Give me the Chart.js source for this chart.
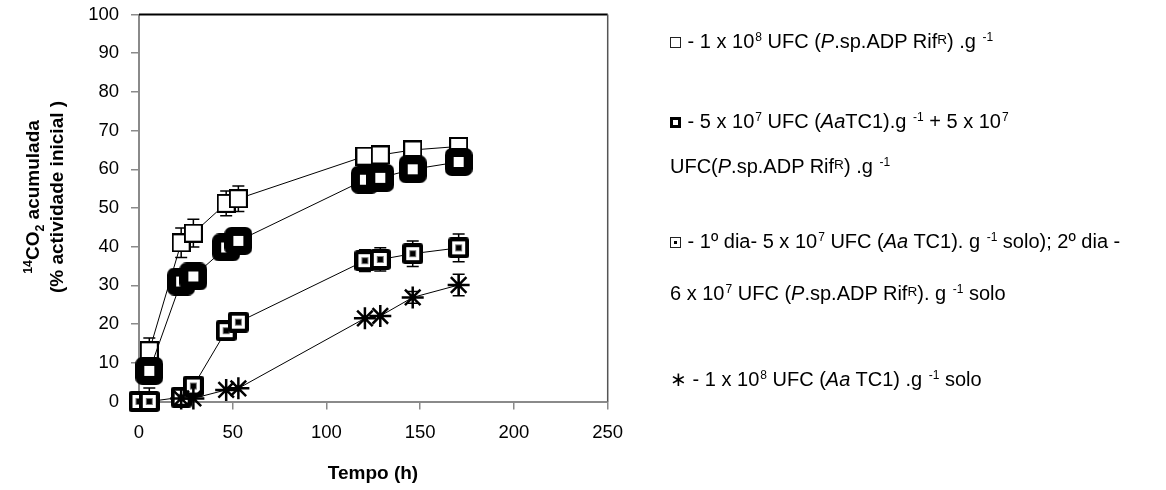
<!DOCTYPE html>
<html>
<head>
<meta charset="utf-8">
<script src="https://cdn.jsdelivr.net/npm/chart.js@4.4.1/dist/chart.umd.min.js"></script>
<style>
  html, body { margin: 0; padding: 0; background: #fff; }
  #wrap { position: relative; width: 1166px; height: 490px; font-family: Arial, "Liberation Sans", sans-serif; color: #000; }
  #wrap canvas { position: absolute; left: 0; top: 0; }
  .ytitle { position: absolute; left: -105px; top: 173px; width: 300px; height: 48px; transform: rotate(-90deg); text-align: center; font-weight: bold; font-size: 19px; line-height: 24px; white-space: nowrap; }
  .ytitle sup, .ytitle sub { font-size: 65%; line-height: 0; }
  .xtitle { position: absolute; left: 373px; top: 473px; transform: translate(-50%, -50%); font-weight: bold; font-size: 19px; white-space: nowrap; }
  .leg { position: absolute; left: 670px; font-size: 20px; line-height: 22px; white-space: nowrap; }
  .leg sup { font-size: 60%; line-height: 0; vertical-align: 0.6em; margin-left: 1px; }
  .leg .r { font-size: 68%; line-height: 0; vertical-align: 0.3em; }
  .ico { display: inline-block; box-sizing: border-box; width: 11px; height: 11px; margin-right: 1px; position: relative; }
  .ico.open { border: 1px solid #222; }
  .ico.heavy { border: 3px solid #000; }
  .ico.dot { border: 1px solid #222; }
  .ico.dot::after { content: ""; position: absolute; left: 3px; top: 3px; width: 3px; height: 3px; background: #000; }
</style>
</head>
<body>
<div id="wrap">
  <canvas id="chart" width="1166" height="490"></canvas>
  <div class="ytitle"><sup>14</sup>CO<sub>2</sub> acumulada<br>(% actividade inicial )</div>
  <div class="xtitle">Tempo (h)</div>

  <div class="leg" style="top:30px"><span class="ico open"></span> - 1 x 10<sup>8</sup> UFC (<i>P</i>.sp.ADP Rif<span class="r">R</span>) .g <sup>-1</sup></div>
  <div class="leg" style="top:110px"><span class="ico heavy"></span> - 5 x 10<sup>7</sup> UFC (<i>Aa</i>TC1).g <sup>-1</sup> + 5 x 10<sup>7</sup></div>
  <div class="leg" style="top:155px">UFC(<i>P</i>.sp.ADP Rif<span class="r">R</span>) .g <sup>-1</sup></div>
  <div class="leg" style="top:230px"><span class="ico dot"></span> - 1º dia- 5 x 10<sup>7</sup> UFC (<i>Aa</i> TC1). g <sup>-1</sup> solo); 2º dia -</div>
  <div class="leg" style="top:282px">6 x 10<sup>7</sup> UFC (<i>P</i>.sp.ADP Rif<span class="r">R</span>). g <sup>-1</sup> solo</div>
  <div class="leg" style="top:368px">∗ - 1 x 10<sup>8</sup> UFC (<i>Aa</i> TC1) .g <sup>-1</sup> solo</div>
</div>

<script>
// sampling times (h)
const hours = [0, 5.5, 22.5, 29, 46.5, 53, 120.5, 128.7, 146, 170.5];

// accumulated 14CO2 (% of initial activity)
const pspOnly    = [null, 13.1, 41.0, 43.5, 51.2, 52.4, 63.4, 63.7, 65.0, 65.9];
const aaPlusPsp  = [null, 7.9, 31.0, 32.3, 39.8, 41.5, 57.3, 57.8, 60.0, 61.9];
const sequential = [0, 0, 1.1, 4.0, 18.3, 20.5, 36.4, 36.7, 38.2, 39.7];
const aaOnly     = [null, null, 0.8, 0.8, 3.0, 3.4, 21.5, 22.1, 26.9, 30.1];

// standard deviations
const pspOnlyErr    = [0, 3.3, 3.8, 3.6, 3.2, 3.3, 1.0, 1.0, 1.0, 1.0];
const aaPlusPspErr  = [0, 0, 0, 0, 0, 0, 0, 0, 0, 0];
const sequentialErr = [0, 3.5, 0, 0, 0, 0, 2.8, 3.0, 3.3, 3.6];
const aaOnlyErr     = [0, 0, 0, 0, 0, 0, 0, 0, 1.5, 2.8];

const xTickValues = [0, 50, 100, 150, 200, 250];
const yTickValues = [0, 10, 20, 30, 40, 50, 60, 70, 80, 90, 100];

const seriesValues = [pspOnly, aaPlusPsp, sequential, aaOnly];
const seriesErrors = [pspOnlyErr, aaPlusPspErr, sequentialErr, aaOnlyErr];

function toPoints(values) {
    return hours.map((h, i) => values[i] == null ? null : { x: h, y: values[i] }).filter(Boolean);
}

function roundedRect(g, x, y, w, h, r) {
    g.beginPath();
    g.moveTo(x + r, y);
    g.arcTo(x + w, y, x + w, y + h, r);
    g.arcTo(x + w, y + h, x, y + h, r);
    g.arcTo(x, y + h, x, y, r);
    g.arcTo(x, y, x + w, y, r);
    g.closePath();
}

function markerCanvas(size, paint) {
    const c = document.createElement('canvas');
    c.width = size;
    c.height = size;
    paint(c.getContext('2d'), size);
    return c;
}

// marker symbols
const openSquare = markerCanvas(19, (g, s) => {
    g.fillStyle = '#fff';
    g.fillRect(0, 0, s, s);
    g.strokeStyle = '#000';
    g.lineWidth = 2;
    g.strokeRect(1, 1, s - 2, s - 2);
});
const heavySquare = markerCanvas(28, (g, s) => {
    g.fillStyle = '#000';
    roundedRect(g, 0, 0, s, s, 7);
    g.fill();
    g.fillStyle = '#fff';
    g.fillRect(9, 9, 10, 10);
});
const dotSquare = markerCanvas(21, (g, s) => {
    g.fillStyle = '#000';
    roundedRect(g, 0, 0, s, s, 3);
    g.fill();
    g.fillStyle = '#fff';
    g.fillRect(4, 4, s - 8, s - 8);
    g.fillStyle = '#777';
    g.fillRect(7, 7, 7, 7);
    g.fillStyle = '#000';
    g.fillRect(8, 8, 5, 5);
});

// error bars drawn under the markers
const errorBars = {
    id: 'errorBars',
    beforeDatasetsDraw(chart) {
        const { ctx, scales: { x, y } } = chart;
        ctx.save();
        ctx.strokeStyle = '#000';
        ctx.lineWidth = 1.5;
        seriesErrors.forEach((errs, si) => {
            const vals = seriesValues[si];
            errs.forEach((e, i) => {
                if (!e || vals[i] == null) return;
                const px = x.getPixelForValue(hours[i]);
                const top = y.getPixelForValue(vals[i] + e);
                const bot = y.getPixelForValue(Math.max(0, vals[i] - e));
                ctx.beginPath();
                ctx.moveTo(px, top); ctx.lineTo(px, bot);
                ctx.moveTo(px - 6, top); ctx.lineTo(px + 6, top);
                ctx.moveTo(px - 6, bot); ctx.lineTo(px + 6, bot);
                ctx.stroke();
            });
        });
        ctx.restore();
    }
};

// top and right edges of the plot box
const plotFrame = {
    id: 'plotFrame',
    beforeDatasetsDraw(chart) {
        const { ctx, chartArea: a } = chart;
        ctx.save();
        ctx.strokeStyle = '#000';
        ctx.lineWidth = 2;
        ctx.beginPath();
        ctx.moveTo(a.left, a.top);
        ctx.lineTo(a.right, a.top);
        ctx.stroke();
        ctx.strokeStyle = '#555';
        ctx.lineWidth = 1.5;
        ctx.beginPath();
        ctx.moveTo(a.right, a.top);
        ctx.lineTo(a.right, a.bottom);
        ctx.stroke();
        ctx.restore();
    }
};

const lineCommon = {
    showLine: true,
    borderColor: '#000',
    borderWidth: 1,
    tension: 0,
    clip: false,
    spanGaps: true
};

const axisGray = '#8a8a8a';
const fontFamily = 'Arial, "Liberation Sans", sans-serif';

new Chart(document.getElementById('chart'), {
    type: 'scatter',
    data: {
        datasets: [
            { ...lineCommon, data: toPoints(pspOnly), pointStyle: openSquare, order: 4 },
            { ...lineCommon, data: toPoints(aaPlusPsp), pointStyle: heavySquare, order: 3 },
            { ...lineCommon, data: toPoints(sequential), pointStyle: dotSquare, order: 2 },
            {
                ...lineCommon, data: toPoints(aaOnly), pointStyle: 'star',
                pointRadius: 11, pointBorderWidth: 2.5, pointBorderColor: '#000', order: 1
            }
        ]
    },
    options: {
        responsive: false,
        animation: false,
        devicePixelRatio: 1,
        events: [],
        layout: { padding: { left: 0, top: 14.5, right: 1166 - 607.7, bottom: 0 } },
        plugins: {
            legend: { display: false },
            tooltip: { enabled: false }
        },
        scales: {
            x: {
                type: 'linear',
                min: 0,
                max: 250,
                afterBuildTicks: s => { s.ticks = xTickValues.map(v => ({ value: v })); },
                afterFit: s => { s.height = 490 - 401.5; },
                ticks: { color: '#000', font: { family: fontFamily, size: 18.5 }, padding: 12, maxRotation: 0 },
                grid: { drawOnChartArea: false, color: axisGray, lineWidth: 1.5, tickLength: 8 },
                border: { color: axisGray, width: 2 }
            },
            y: {
                type: 'linear',
                min: 0,
                max: 100,
                afterBuildTicks: s => { s.ticks = yTickValues.map(v => ({ value: v })); },
                afterFit: s => { s.width = 139; },
                // tiny line height keeps the top label from pushing the plot down
                ticks: { color: '#000', font: { family: fontFamily, size: 18.5, lineHeight: 0.1 }, padding: 12 },
                grid: { drawOnChartArea: false, color: axisGray, lineWidth: 1.5, tickLength: 8 },
                border: { color: axisGray, width: 2 }
            }
        }
    },
    plugins: [plotFrame, errorBars]
});
</script>
</body>
</html>
